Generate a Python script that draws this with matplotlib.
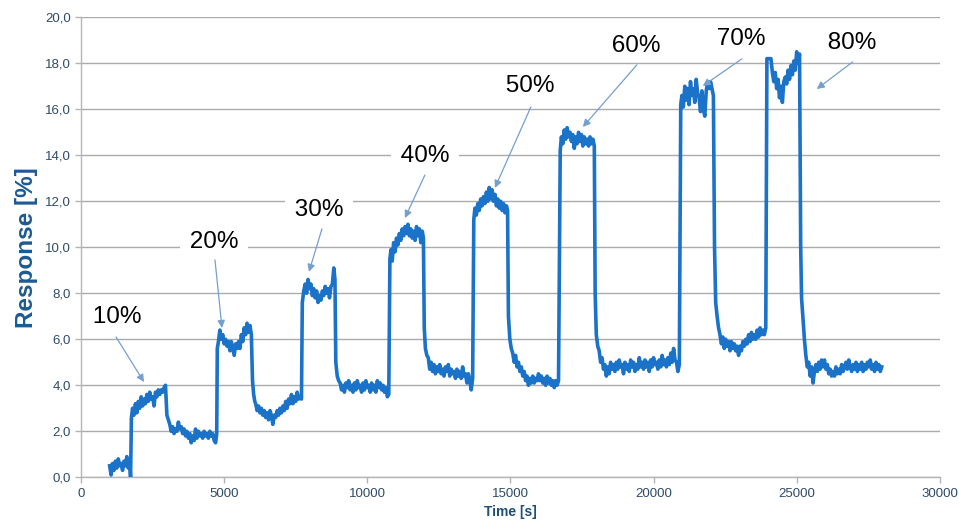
import matplotlib.pyplot as plt
from matplotlib.ticker import FuncFormatter

plt.rcParams['font.family'] = ['Liberation Sans', 'DejaVu Sans']

# Respuesta del sensor: tramos de exposición (sXX) y recuperación (rXX)
pre_t = [1000, 1050, 1100, 1150, 1200, 1250, 1300, 1350, 1400, 1450, 1500, 1550, 1600, 1650, 1700, 1730]
pre_r = [0.5, 0.1, 0.6, 0.3, 0.7, 0.4, 0.8, 0.5, 0.6, 0.3, 0.7, 0.5, 0.9, 0.4, 0.6, 0.0]

s10_t = [1760, 1800, 1850, 1900, 1950, 2000, 2050, 2100, 2150, 2200, 2250, 2300, 2350,
         2400, 2450, 2500, 2550, 2600, 2650, 2700, 2750, 2800, 2850, 2900, 2950]
s10_r = [2.6, 3.0, 2.7, 3.2, 2.8, 3.3, 3.0, 3.5, 3.1, 3.4, 3.2, 3.6, 3.3,
         3.7, 3.4, 3.5, 3.1, 3.7, 3.5, 3.8, 3.6, 3.8, 3.7, 3.9, 4.0]

r10_t = [3000, 3050, 3100, 3150, 3200, 3250, 3300, 3350, 3400, 3450, 3500, 3550, 3600, 3650,
         3700, 3750, 3800, 3850, 3900, 3950, 4000, 4050, 4100, 4150, 4200, 4250, 4300, 4350,
         4400, 4450, 4500, 4550, 4600, 4650, 4700, 4740]
r10_r = [2.7, 2.5, 2.3, 2.0, 2.2, 1.9, 2.1, 2.0, 2.4, 2.1, 2.2, 1.9, 2.1, 1.8,
         2.0, 1.7, 1.9, 1.5, 1.8, 1.6, 2.1, 1.7, 2.0, 1.8, 1.9, 1.7, 2.0, 1.8,
         1.9, 1.7, 2.0, 1.8, 1.9, 1.6, 1.5, 1.9]

s20_t = [4760, 4800, 4850, 4900, 4950, 5000, 5050, 5100, 5150, 5200, 5250, 5300, 5350,
         5400, 5450, 5500, 5550, 5600, 5650, 5700, 5750, 5800, 5850, 5900, 5950]
s20_r = [5.6, 5.9, 6.4, 6.0, 6.2, 5.8, 6.0, 5.7, 5.9, 5.5, 5.9, 5.6, 5.3,
         5.8, 5.6, 5.9, 5.6, 6.2, 5.9, 6.5, 6.2, 6.7, 6.3, 6.6, 6.2]

r20_t = [5990, 6030, 6070, 6100, 6150, 6200, 6250, 6300, 6350, 6400, 6450, 6500, 6550, 6600,
         6650, 6700, 6750, 6800, 6850, 6900, 6950, 7000, 7050, 7100, 7150, 7200, 7250,
         7300, 7350, 7400, 7450, 7500, 7550, 7600, 7650, 7700]
r20_r = [4.2, 3.6, 3.3, 3.2, 2.9, 3.1, 2.8, 3.0, 2.7, 2.9, 2.6, 2.8, 2.5, 2.9,
         2.7, 2.3, 2.7, 2.6, 2.9, 2.7, 3.0, 2.8, 3.1, 2.9, 3.3, 3.0, 3.4,
         3.2, 3.6, 3.2, 3.5, 3.3, 3.7, 3.4, 3.5, 3.4]

s30_t = [7730, 7780, 7830, 7880, 7930, 7980, 8030, 8080, 8130, 8180, 8230, 8280,
         8330, 8380, 8430, 8480, 8530, 8580, 8630, 8680, 8730, 8780, 8830, 8870]
s30_r = [7.6, 8.1, 8.4, 8.0, 8.6, 8.2, 8.4, 7.9, 8.2, 7.8, 8.1, 7.6,
         7.9, 7.7, 8.1, 7.9, 8.3, 8.0, 8.2, 7.8, 8.3, 8.4, 9.1, 8.6]

r30_t = [8900, 8950, 9000, 9050, 9100, 9150, 9200, 9250, 9300, 9350, 9400, 9450, 9500,
         9550, 9600, 9650, 9700, 9750, 9800, 9850, 9900, 9950, 10000, 10050, 10100,
         10150, 10200, 10250, 10300, 10350, 10400, 10450, 10500, 10550, 10600, 10650,
         10700, 10750]
r30_r = [5.0, 4.4, 4.2, 4.1, 3.8, 4.0, 3.7, 4.1, 3.9, 4.2, 3.8, 4.0, 3.7,
         4.1, 3.8, 4.2, 3.9, 4.0, 3.7, 4.1, 3.8, 4.2, 3.9, 4.0, 3.7,
         4.1, 3.8, 4.0, 3.7, 4.2, 3.9, 4.1, 3.8, 4.0, 3.7, 3.9,
         3.5, 3.6]

s40_t = [10790, 10830, 10870, 10920, 10970, 11020, 11070, 11120, 11170, 11220, 11270, 11320,
         11370, 11420, 11470, 11520, 11570, 11620, 11670, 11720, 11770, 11820, 11870, 11920, 11960]
s40_r = [9.5, 9.9, 9.4, 10.2, 9.8, 10.4, 10.1, 10.6, 10.3, 10.8, 10.5, 10.9,
         10.6, 11.0, 10.5, 10.8, 10.4, 10.7, 10.3, 10.9, 10.5, 10.8, 10.2, 10.7, 10.4]

r40_t = [11990, 12030, 12080, 12130, 12180, 12230, 12280, 12330, 12380, 12430, 12480, 12530,
         12580, 12630, 12680, 12730, 12780, 12830, 12880, 12930, 12980, 13030, 13080, 13130,
         13180, 13230, 13280, 13330, 13380, 13430, 13480, 13530, 13580, 13630, 13680]
r40_r = [6.5, 5.6, 5.3, 5.2, 4.7, 5.0, 4.6, 4.9, 4.5, 4.8, 4.6, 4.9,
         4.5, 4.7, 4.4, 4.8, 4.6, 4.9, 4.4, 4.7, 4.5, 4.6, 4.3, 4.7,
         4.4, 4.6, 4.3, 4.8, 4.4, 4.5, 4.1, 4.5, 4.2, 3.8, 4.3]

s50_t = [13720, 13760, 13810, 13860, 13910, 13960, 14010, 14060, 14110, 14160, 14210, 14260,
         14310, 14360, 14410, 14460, 14510, 14560, 14610, 14660, 14710, 14760, 14810, 14860, 14900]
s50_r = [11.2, 11.7, 11.4, 11.9, 11.6, 12.1, 11.8, 12.2, 11.9, 12.4, 12.0, 12.6,
         12.1, 12.5, 12.0, 12.3, 11.8, 12.1, 11.7, 12.0, 11.6, 11.9, 11.5, 11.8, 11.6]

r50_t = [14930, 14980, 15030, 15080, 15130, 15180, 15230, 15280, 15330, 15380, 15430, 15480,
         15530, 15580, 15630, 15680, 15730, 15780, 15830, 15880, 15930, 15980, 16030, 16080,
         16130, 16180, 16230, 16280, 16330, 16380, 16430, 16480, 16530, 16580, 16630, 16680]
r50_r = [7.0, 6.0, 5.6, 5.4, 5.0, 5.3, 4.8, 5.0, 4.6, 4.8, 4.4, 4.6,
         4.2, 4.4, 4.0, 4.3, 4.1, 4.4, 4.1, 4.3, 4.2, 4.5, 4.2, 4.4,
         4.1, 4.3, 4.0, 4.4, 4.1, 4.3, 4.0, 4.2, 3.9, 4.2, 4.0, 4.2]

s60_t = [16740, 16780, 16830, 16880, 16930, 16980, 17030, 17080, 17130, 17180, 17230, 17280,
         17330, 17380, 17430, 17480, 17530, 17580, 17630, 17680, 17730, 17780, 17830, 17880, 17930]
s60_r = [14.2, 14.8, 14.5, 15.1, 14.7, 15.2, 14.8, 15.0, 14.6, 14.9, 14.3, 14.8,
         14.5, 15.0, 14.6, 14.9, 14.4, 14.8, 14.5, 14.7, 14.4, 14.8, 14.5, 14.7, 14.4]

r60_t = [17960, 18000, 18050, 18100, 18150, 18200, 18250, 18300, 18350, 18400, 18450, 18500,
         18550, 18600, 18650, 18700, 18750, 18800, 18850, 18900, 18950, 19000, 19050, 19100,
         19150, 19200, 19250, 19300, 19350, 19400, 19450, 19500, 19550, 19600, 19650, 19700,
         19750, 19800, 19850, 19900, 19950, 20000, 20050, 20100, 20150, 20200, 20250, 20300,
         20350, 20400, 20450, 20500, 20550, 20600, 20650, 20700, 20750, 20800, 20850, 20900]
r60_r = [8.0, 6.2, 5.7, 5.5, 5.0, 5.2, 4.7, 4.9, 4.4, 4.8, 4.5, 5.0,
         4.7, 4.9, 4.6, 5.0, 4.7, 5.1, 4.8, 4.9, 4.5, 5.0, 4.7, 4.9,
         4.6, 5.1, 4.8, 5.0, 4.6, 4.9, 4.7, 5.2, 4.8, 5.0, 4.7, 5.1,
         4.8, 5.0, 4.6, 5.1, 4.8, 5.2, 4.9, 5.0, 4.7, 5.1, 4.8, 5.3,
         4.9, 5.1, 4.8, 5.2, 4.9, 5.4, 5.0, 5.6, 5.1, 5.0, 4.6, 4.9]

s70_t = [20950, 20990, 21040, 21090, 21140, 21190, 21240, 21290, 21340, 21390, 21440, 21490,
         21540, 21590, 21640, 21690, 21740, 21790, 21840, 21890, 21940, 21990, 22040, 22090]
s70_r = [16.2, 16.6, 16.1, 17.0, 16.4, 16.9, 16.2, 17.2, 16.6, 16.9, 16.3, 17.3,
         16.7, 16.5, 15.9, 16.8, 16.0, 15.7, 16.8, 17.2, 16.9, 17.2, 16.9, 16.6]

r70_t = [22130, 22170, 22220, 22270, 22320, 22370, 22420, 22470, 22520, 22570, 22620, 22670,
         22720, 22770, 22820, 22870, 22920, 22970, 23020, 23070, 23120, 23170, 23220, 23270,
         23320, 23370, 23420, 23470, 23520, 23570, 23620, 23670, 23720, 23770, 23820, 23870, 23920]
r70_r = [10.0, 7.6, 7.0, 6.5, 6.2, 5.8, 6.1, 5.6, 6.0, 5.7, 5.9, 5.5,
         5.9, 5.6, 5.8, 5.5, 5.7, 5.3, 5.7, 5.5, 5.9, 5.7, 6.0, 5.8,
         6.2, 5.9, 6.3, 6.0, 6.2, 6.0, 6.4, 6.1, 6.5, 6.2, 6.4, 6.2, 6.5]

s80_t = [23960, 24000, 24050, 24100, 24150, 24200, 24250, 24300, 24350, 24400, 24450, 24500,
         24550, 24600, 24650, 24700, 24750, 24800, 24850, 24900, 24950, 25000, 25050, 25100]
s80_r = [18.2, 18.2, 18.2, 18.2, 17.6, 17.2, 17.6, 16.9, 17.3, 16.5, 17.0, 16.3,
         17.2, 17.4, 17.1, 17.7, 17.3, 17.9, 17.5, 18.1, 17.7, 18.5, 18.0, 18.4]

r80_t = [25140, 25170, 25220, 25270, 25320, 25370, 25420, 25470, 25520, 25570, 25620, 25670,
         25720, 25770, 25820, 25870, 25920, 25970, 26020, 26070, 26120, 26170, 26220, 26270,
         26320, 26370, 26420, 26470, 26520, 26570, 26620, 26670, 26720, 26770, 26820, 26870,
         26920, 26970, 27020, 27070, 27120, 27170, 27220, 27270, 27320, 27370, 27420, 27470,
         27520, 27570, 27620, 27670, 27720, 27770, 27820, 27870, 27920, 27970]
r80_r = [10.0, 7.8, 6.9, 6.0, 5.3, 4.8, 5.0, 4.4, 4.8, 4.1, 4.6, 4.9,
         4.6, 5.0, 4.7, 5.1, 4.8, 5.1, 4.7, 4.9, 4.5, 4.7, 4.4, 4.6,
         4.4, 4.8, 4.5, 4.7, 4.5, 4.9, 4.6, 4.8, 5.0, 4.7, 5.1, 4.8,
         4.6, 4.9, 4.7, 5.0, 4.6, 4.9, 4.7, 5.0, 4.6, 4.9, 4.7, 5.0,
         4.8, 5.1, 4.7, 4.9, 4.6, 5.0, 4.7, 4.9, 4.6, 4.8]

tramos_t = [pre_t, s10_t, r10_t, s20_t, r20_t, s30_t, r30_t, s40_t, r40_t,
            s50_t, r50_t, s60_t, r60_t, s70_t, r70_t, s80_t, r80_t]
tramos_r = [pre_r, s10_r, r10_r, s20_r, r20_r, s30_r, r30_r, s40_r, r40_r,
            s50_r, r50_r, s60_r, r60_r, s70_r, r70_r, s80_r, r80_r]
tiempo = [t for tr in tramos_t for t in tr]
respuesta = [v for tr in tramos_r for v in tr]

# Etiquetas de concentración y flechas (posición del texto, origen y punta de la flecha)
etiquetas = ['10%', '20%', '30%', '40%', '50%', '60%', '70%', '80%']
texto_xy = [(1257, 6.95), (4644, 10.25), (8311, 11.6), (12012, 13.95),
            (15679, 17.0), (19381, 18.75), (23047, 19.05), (26923, 18.87)]
flecha_desde = [(1222, 6.10), (4679, 9.45), (8416, 10.80), (12012, 13.14),
                (15714, 16.10), (19416, 17.93), (23082, 18.19), (26958, 18.06)]
flecha_hasta = [(2200, 4.14), (4924, 6.49), (7962, 8.93), (11314, 11.27),
                (14457, 12.58), (17530, 15.23), (21720, 17.01), (25701, 16.88)]

fig = plt.figure(figsize=(9.59, 5.23), dpi=100)
ax = fig.add_axes([0.0845, 0.0874, 0.8955, 0.8796])

ax.plot(tiempo, respuesta, color='#1A72C9', lw=2.6, zorder=4)

# cuadro blanco detrás de cada etiqueta (corta la rejilla)
for et, pos in zip(etiquetas, texto_xy):
    ax.text(pos[0], pos[1], ' ' + et + ' ', fontsize=17.5, color='black',
            ha='center', va='center', zorder=3,
            bbox=dict(boxstyle='square,pad=0.12', fc='white', ec='none'))

for p0, p1 in zip(flecha_desde, flecha_hasta):
    ax.annotate('', xy=p1, xytext=p0, zorder=5,
                arrowprops=dict(arrowstyle='-|>', color='#74A0D0', lw=0.9,
                                mutation_scale=11, shrinkA=0, shrinkB=0))

ax.set_xlim(0, 30000)
ax.set_ylim(0, 20)
ax.set_xticks(range(0, 30001, 5000))
ax.set_yticks(range(0, 21, 2))
ax.yaxis.set_major_formatter(FuncFormatter(lambda v, p: f'{v:.1f}'.replace('.', ',')))

ax.grid(axis='y', color='#ABABAB', lw=1.0)
ax.set_axisbelow(True)
for lado in ['top', 'right']:
    ax.spines[lado].set_visible(False)
for lado in ['left', 'bottom']:
    ax.spines[lado].set_color('#B5B5B5')
    ax.spines[lado].set_linewidth(1.0)
ax.tick_params(colors='#B5B5B5', labelcolor='#2E4A68', labelsize=9.5, length=4, width=1.0)

ax.set_xlabel('Time [s]', fontsize=10, fontweight='bold', color='#1F4E7A', va='center')
ax.set_ylabel('Response [%]', fontsize=17.5, fontweight='bold', color='#1C5A92', va='center')
ax.xaxis.set_label_coords(0.5, -0.075)
ax.yaxis.set_label_coords(-0.064, 0.5)

fig.savefig('out.png', dpi=100)
